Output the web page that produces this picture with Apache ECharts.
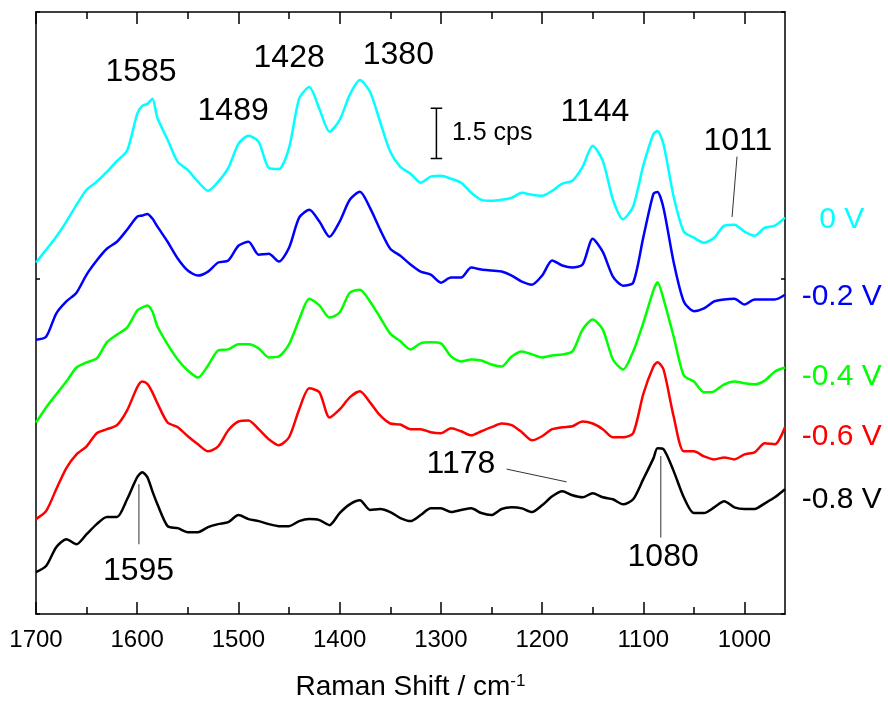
<!DOCTYPE html>
<html><head><meta charset="utf-8">
<script src="https://cdn.jsdelivr.net/npm/echarts@6/dist/echarts.min.js"></script>
<style>html,body{margin:0;padding:0;background:#fff}#c{width:888px;height:706px}</style>
</head><body><div id="c"></div>
<script>
// Raman shift (cm^-1)
const wavenumber = [1700,1690,1680,1670,1660,1650,1640,1630,1620,1610,1600,1595,1590,1585,1580,1570,1560,1550,1540,1530,1520,1510,1500,1490,1480,1470,1460,1450,1440,1430,1420,1410,1400,1390,1380,1370,1360,1350,1340,1330,1320,1310,1300,1290,1280,1270,1260,1250,1240,1230,1220,1210,1200,1190,1180,1170,1160,1150,1140,1130,1120,1110,1100,1090,1086,1080,1070,1060,1050,1040,1030,1020,1010,1000,990,980,970,960];

// Offset spectra intensities (cps)
const spec0V = [10.48,10.86,11.25,11.70,12.20,12.65,12.89,13.18,13.51,13.81,14.91,15.15,15.21,15.36,14.79,14.14,13.48,13.24,12.89,12.62,12.89,13.30,14.02,14.26,14.08,13.30,13.27,13.90,15.37,15.71,15.06,14.38,14.73,15.48,15.92,15.57,14.67,13.78,13.33,13.13,12.86,13.04,13.07,12.98,12.86,12.56,12.35,12.32,12.35,12.41,12.56,12.50,12.47,12.62,12.83,12.92,13.33,13.96,13.51,12.36,11.77,12.15,13.37,14.31,14.40,14.00,12.44,11.40,11.22,11.07,11.22,11.58,11.61,11.40,11.28,11.52,11.58,11.82];
const specM02V = [8.18,8.27,8.96,9.32,9.58,10.12,10.54,10.89,11.10,11.46,11.85,11.88,11.93,11.79,11.55,11.10,10.60,10.24,10.09,10.21,10.48,10.54,10.98,11.10,10.71,10.74,10.51,10.92,11.82,12.05,11.70,11.25,11.70,12.35,12.59,12.11,11.46,10.89,10.68,10.42,10.21,10.12,9.88,10.03,10.03,10.33,10.27,10.24,10.21,10.09,9.91,9.82,10.09,10.54,10.39,10.33,10.42,11.19,10.80,10.06,9.79,9.88,11.23,12.53,12.58,12.10,10.49,9.32,9.03,9.11,9.32,9.38,9.40,9.23,9.38,9.38,9.38,9.52];
const specM04V = [5.71,6.16,6.55,6.93,7.35,7.50,7.62,8.10,8.33,8.54,9.05,9.14,9.20,9.02,8.57,8.04,7.59,7.26,7.05,7.41,7.86,7.89,8.04,8.04,7.92,7.65,7.68,8.04,8.78,9.40,9.20,8.84,8.99,9.58,9.67,9.32,8.84,8.36,8.13,7.89,8.07,8.10,8.07,7.68,7.53,7.59,7.56,7.44,7.38,7.68,7.83,7.74,7.65,7.71,7.74,7.83,8.48,8.78,8.48,7.59,7.29,7.83,8.68,9.65,9.89,9.39,8.27,7.11,6.93,6.61,6.64,6.85,6.93,6.88,6.85,6.96,7.23,7.35];
const specM06V = [2.83,3.07,3.72,4.35,4.76,5.00,5.39,5.51,5.63,6.07,6.76,6.93,6.86,6.61,6.28,5.71,5.57,5.30,5.06,4.85,5.00,5.48,5.74,5.77,5.51,5.21,5.03,5.27,6.10,6.73,6.61,5.86,6.10,6.46,6.64,6.31,5.92,5.68,5.65,5.51,5.51,5.42,5.39,5.54,5.45,5.33,5.45,5.57,5.68,5.63,5.42,5.18,5.30,5.51,5.57,5.60,5.74,5.68,5.51,5.27,5.27,5.39,6.56,7.38,7.51,7.29,5.89,4.85,4.85,4.70,4.61,4.67,4.61,4.76,4.82,5.09,5.06,5.57];
const specM08V = [1.25,1.43,1.99,2.23,2.08,2.38,2.68,2.89,2.89,3.42,4.08,4.23,4.08,3.66,3.27,2.62,2.56,2.44,2.44,2.59,2.68,2.74,2.95,2.83,2.77,2.68,2.62,2.62,2.77,2.83,2.80,2.65,3.01,3.27,3.39,3.10,3.13,3.04,2.86,2.77,2.95,3.15,3.15,3.04,3.10,3.15,3.01,2.95,3.13,3.18,3.15,3.04,3.24,3.51,3.66,3.54,3.48,3.60,3.48,3.42,3.27,3.42,4.02,4.64,4.94,4.91,4.26,3.48,3.01,3.01,3.18,3.36,3.18,3.13,3.13,3.30,3.48,3.72];

const potentials = ['0 V','-0.2 V','-0.4 V','-0.6 V','-0.8 V'];
const spectra = [spec0V, specM02V, specM04V, specM06V, specM08V];
const potentialLabelX = [904,904,904,904,904];
const potentialLabelY = [11.76,9.46,7.08,5.30,3.42];

// Band annotations
const bandText = ['1585','1489','1428','1380','1144','1011','1178','1595','1080'];
const bandTextX = [1596.2,1505.2,1449.9,1342,1147.8,1006.6,1280.1,1598.7,1080.4];
const bandTextY = [16.15,14.98,16.57,16.67,14.96,14.09,4.46,1.29,1.69];
// leader lines: [x1, y1, x2, y2]
const leader1011 = [1007.4,13.64,1012.3,11.84];
const leader1178 = [1235,4.32,1175.8,3.94];
const leader1595 = [1598.3,3.87,1598.3,2.08];
const leader1080 = [1082.7,4.71,1082.7,2.28];

// Scale bar
const scaleBarX = 1304.4;
const scaleBarTop = 15.08;
const scaleBarCps = 1.5;
const scaleBarText = '1.5 cps';
const scaleBarTextPos = [1289.1, 14.35];

const majorTicks = [1000,1100,1200,1300,1400,1500,1600,1700];
const minorTicks = [1050,1150,1250,1350,1450,1550,1650];

const colors = ['#00FFFF','#0000FF','#00FF00','#FF0000','#000000'];
const FONT = '"Liberation Sans", Arial, Helvetica, sans-serif';
const AX = {color:'#000', width:1.5};

const chart = echarts.init(document.getElementById('c'));
const baseX = {type:'value', min:960, max:1700, inverse:true, splitLine:{show:false}};
const baseY = {type:'value', min:0, max:17.95, interval:10, splitLine:{show:false},
  axisLabel:{show:false}, axisLine:{show:true, lineStyle:AX},
  axisTick:{show:true, inside:true, length:4, lineStyle:AX}};

const series = [];
spectra.forEach((s, i) => {
  series.push({type:'line', name:potentials[i], showSymbol:false, silent:true,
    smooth:0.25,
    data: wavenumber.map((w, j) => [w, s[j]]),
    lineStyle:{color:colors[i], width:2.5}, itemStyle:{color:colors[i]}, z:3});
});
[leader1011, leader1178, leader1595, leader1080].forEach(l => {
  series.push({type:'line', showSymbol:false, silent:true,
    data:[[l[0],l[1]],[l[2],l[3]]], lineStyle:{color:'#333', width:1}, z:2});
});
const cap = 5.7;
const yb = scaleBarTop - scaleBarCps;
series.push({type:'line', showSymbol:false, silent:true, connectNulls:false,
  data:[[scaleBarX+cap,scaleBarTop],[scaleBarX-cap,scaleBarTop],[scaleBarX,'-'],
        [scaleBarX,scaleBarTop],[scaleBarX,yb],[scaleBarX,'-'],
        [scaleBarX+cap,yb],[scaleBarX-cap,yb]],
  lineStyle:{color:'#000', width:1.5}});
const labelItem = {color:'rgba(0,0,0,0)', opacity:1};
series.push({type:'scatter', clip:false, silent:true, symbolSize:1, itemStyle:labelItem,
  data:[{value:scaleBarTextPos, name:scaleBarText}],
  label:{show:true, position:'inside', align:'left', formatter:'{b}', fontSize:25, color:'#000',
    opacity:1, textBorderWidth:0, fontFamily:FONT}});
series.push({type:'scatter', clip:false, silent:true, symbolSize:1, itemStyle:labelItem,
  data: bandText.map((t,i)=>({value:[bandTextX[i], bandTextY[i]], name:t})),
  label:{show:true, position:'inside', formatter:'{b}', fontSize:32, color:'#000',
    opacity:1, textBorderWidth:0, fontFamily:FONT}});
series.push({type:'scatter', clip:false, silent:true, symbolSize:1, itemStyle:labelItem,
  data: potentials.map((t,i)=>({value:[potentialLabelX[i], potentialLabelY[i]], name:t, label:{color:colors[i]}})),
  label:{show:true, position:'inside', formatter:'{b}', fontSize:30, opacity:1, textBorderWidth:0, fontFamily:FONT}});

chart.setOption({
  animation:false,
  backgroundColor:'#fff',
  grid:{left:36, right:103, top:12, bottom:91},
  xAxis:[
    Object.assign({}, baseX, {position:'bottom',
      axisLine:{show:true, lineStyle:AX},
      axisTick:{show:true, inside:true, length:12, customValues:majorTicks, lineStyle:AX},
      axisLabel:{show:true, customValues:majorTicks, margin:14, fontSize:24, color:'#000', fontFamily:FONT,
        formatter: v => String(v)},
      name:'Raman Shift / cm{sup|-1}', nameLocation:'middle', nameGap:59,
      nameTextStyle:{fontSize:28, color:'#000', fontFamily:FONT,
        rich:{sup:{fontSize:17, color:'#000', fontFamily:FONT, verticalAlign:'top', padding:[0,0,8,0]}}}}),
    Object.assign({}, baseX, {position:'bottom', axisLine:{show:false},
      axisTick:{show:true, inside:true, length:7, customValues:minorTicks, lineStyle:AX},
      axisLabel:{show:false}}),
    Object.assign({}, baseX, {position:'top', axisLine:{show:true, lineStyle:AX},
      axisTick:{show:true, inside:true, length:12, customValues:majorTicks, lineStyle:AX},
      axisLabel:{show:false}}),
    Object.assign({}, baseX, {position:'top', axisLine:{show:false},
      axisTick:{show:true, inside:true, length:7, customValues:minorTicks, lineStyle:AX},
      axisLabel:{show:false}})
  ],
  yAxis:[
    Object.assign({}, baseY, {position:'left'}),
    Object.assign({}, baseY, {position:'right'})
  ],
  series: series
});
</script></body></html>
